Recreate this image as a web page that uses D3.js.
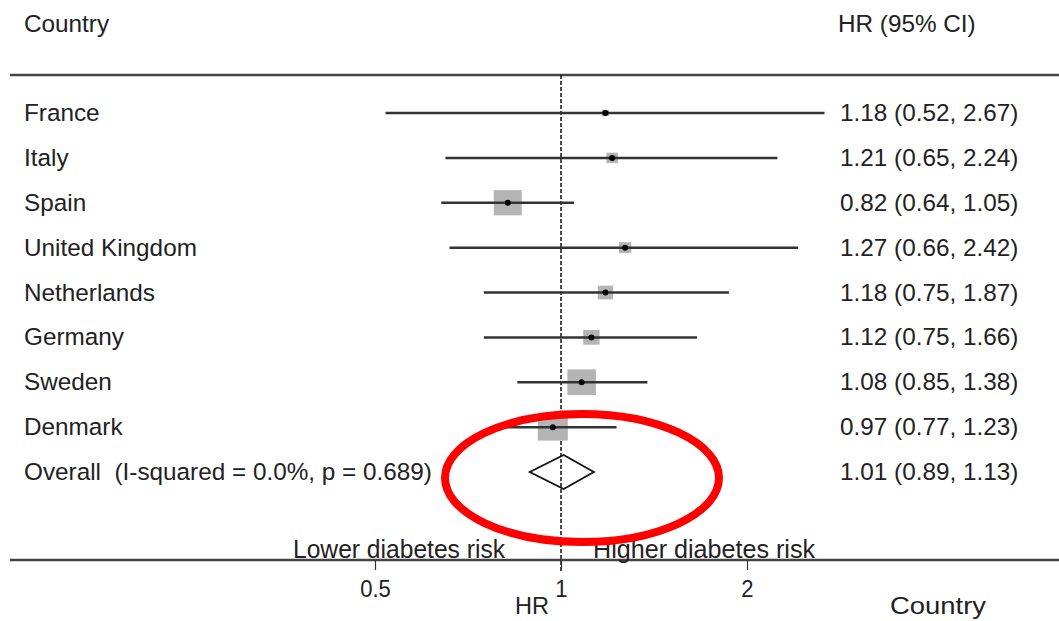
<!DOCTYPE html>
<html>
<head>
<meta charset="utf-8">
<script src="https://cdn.jsdelivr.net/npm/d3@7"></script>
<style>
  body { margin: 0; background: #fff; }
  text { font-family: "Liberation Sans", Arial, sans-serif; fill: #222; white-space: pre; }
</style>
</head>
<body>
<script>
// Data
const countries = ["France", "Italy", "Spain", "United Kingdom", "Netherlands", "Germany", "Sweden", "Denmark"];
const hr = [1.18, 1.21, 0.82, 1.27, 1.18, 1.12, 1.08, 0.97];
const lower = [0.52, 0.65, 0.64, 0.66, 0.75, 0.75, 0.85, 0.77];
const upper = [2.67, 2.24, 1.05, 2.42, 1.87, 1.66, 1.38, 1.23];
const weights = [1.5, 4.0, 23.5, 4.5, 7.0, 8.0, 24.5, 27.0];
const overall = { label: "Overall  (I-squared = 0.0%, p = 0.689)", hr: 1.01, lower: 0.89, upper: 1.13 };
const tickValues = [0.5, 1, 2];

const w = 1059;
const h = 621;
const fs = 24.3;

const svg = d3.select('body')
  .append('svg')
  .attr('width', w)
  .attr('height', h);

const fmt = d3.format('.2f');
const ciText = (e, l, u) => fmt(e) + ' (' + fmt(l) + ', ' + fmt(u) + ')';

// Scales
const xScale = d3.scaleLog()
  .domain([0.5, 2])
  .range([375, 747]);

const rows = countries.concat([overall.label]);
const yScale = d3.scalePoint()
  .domain(rows)
  .range([113, 472]);

const sizeScale = d3.scaleSqrt()
  .domain([0, d3.max(weights)])
  .range([0, 30]);

// Header
svg.append('text').attr('x', 24).attr('y', 32).attr('font-size', fs).text('Country');
svg.append('text').attr('x', 838).attr('y', 32).attr('font-size', fs).text('HR (95% CI)');

// Top rule
svg.append('line')
  .attr('x1', 10).attr('x2', w).attr('y1', 75).attr('y2', 75)
  .attr('stroke', '#444').attr('stroke-width', 2.5);

// Null line
svg.append('line')
  .attr('x1', xScale(1)).attr('x2', xScale(1)).attr('y1', 75).attr('y2', 572)
  .attr('stroke', '#111').attr('stroke-width', 1.5)
  .attr('stroke-dasharray', '4,2');

const data = countries.map((c, i) => ({ country: c, hr: hr[i], lo: lower[i], hi: upper[i], wt: weights[i] }));

// Weight squares
svg.selectAll('rect.wt')
  .data(data)
  .enter()
  .append('rect')
  .attr('class', 'wt')
  .attr('x', d => xScale(d.hr) - sizeScale(d.wt) / 2)
  .attr('y', d => yScale(d.country) - sizeScale(d.wt) * 0.45)
  .attr('width', d => sizeScale(d.wt))
  .attr('height', d => sizeScale(d.wt) * 0.9)
  .attr('fill', '#b4b4b4');

// CI lines
svg.selectAll('line.ci')
  .data(data)
  .enter()
  .append('line')
  .attr('class', 'ci')
  .attr('x1', d => xScale(d.lo))
  .attr('x2', d => xScale(d.hi))
  .attr('y1', d => yScale(d.country))
  .attr('y2', d => yScale(d.country))
  .attr('stroke', '#333')
  .attr('stroke-width', 2.5);

// Point estimates
svg.selectAll('circle.pt')
  .data(data)
  .enter()
  .append('circle')
  .attr('class', 'pt')
  .attr('cx', d => xScale(d.hr))
  .attr('cy', d => yScale(d.country))
  .attr('r', 3)
  .attr('fill', '#000');

// Row labels and estimates
svg.selectAll('text.lab')
  .data(rows)
  .enter()
  .append('text')
  .attr('class', 'lab')
  .attr('x', 24)
  .attr('y', d => yScale(d) + 8)
  .attr('font-size', fs)
  .text(d => d);

svg.selectAll('text.est')
  .data(data)
  .enter()
  .append('text')
  .attr('class', 'est')
  .attr('x', 840)
  .attr('y', d => yScale(d.country) + 8)
  .attr('font-size', fs)
  .text(d => ciText(d.hr, d.lo, d.hi));

svg.append('text')
  .attr('x', 840)
  .attr('y', yScale(overall.label) + 8)
  .attr('font-size', fs)
  .text(ciText(overall.hr, overall.lower, overall.upper));

// Overall diamond
const oy = yScale(overall.label);
svg.append('path')
  .attr('d', 'M' + xScale(overall.lower) + ',' + oy +
    'L' + xScale(overall.hr) + ',' + (oy - 17) +
    'L' + xScale(overall.upper) + ',' + oy +
    'L' + xScale(overall.hr) + ',' + (oy + 17) + 'Z')
  .attr('fill', 'none')
  .attr('stroke', '#111')
  .attr('stroke-width', 1.8);

// Axis
svg.append('line')
  .attr('x1', 10).attr('x2', w).attr('y1', 560).attr('y2', 560)
  .attr('stroke', '#444').attr('stroke-width', 2.5);

const xAxis = d3.axisBottom(xScale)
  .tickValues(tickValues)
  .tickSize(10)
  .tickPadding(10)
  .tickFormat(d3.format(''));

const axisG = svg.append('g')
  .attr('transform', 'translate(0,560)')
  .call(xAxis);
axisG.select('.domain').remove();
axisG.selectAll('line').attr('stroke', '#333').attr('stroke-width', 1.2);
axisG.selectAll('text')
  .attr('font-size', 24)
  .attr('fill', '#222')
  .attr('transform', 'scale(0.92,1)')
  .style('font-family', '"Liberation Sans", Arial, sans-serif');

svg.append('text').attr('x', 505).attr('y', 558).attr('text-anchor', 'end').attr('font-size', 25)
  .attr('textLength', 212).attr('lengthAdjust', 'spacingAndGlyphs').text('Lower diabetes risk');
svg.append('text').attr('x', 593).attr('y', 558).attr('font-size', 25)
  .attr('textLength', 222).attr('lengthAdjust', 'spacingAndGlyphs').text('Higher diabetes risk');
svg.append('text').attr('x', 532).attr('y', 614).attr('text-anchor', 'middle').attr('font-size', 24)
  .attr('textLength', 34).attr('lengthAdjust', 'spacingAndGlyphs').text('HR');
svg.append('text').attr('x', 938).attr('y', 614).attr('text-anchor', 'middle').attr('font-size', 24)
  .attr('textLength', 96).attr('lengthAdjust', 'spacingAndGlyphs').text('Country');

// Red highlight ellipse
svg.append('ellipse')
  .attr('cx', 582).attr('cy', 478)
  .attr('rx', 137).attr('ry', 64)
  .attr('fill', 'none')
  .attr('stroke', '#f00')
  .attr('stroke-width', 8);
</script>
</body>
</html>
